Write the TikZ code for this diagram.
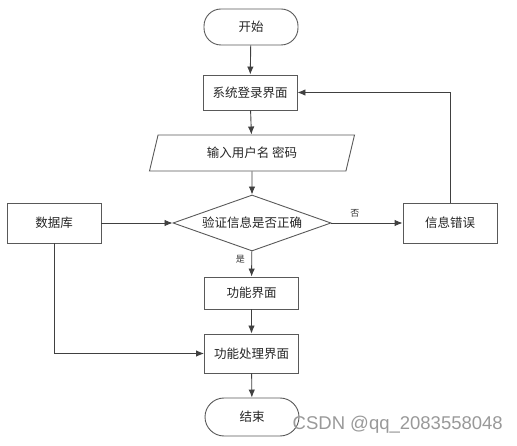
\documentclass[tikz,border=0pt]{standalone}
\usepackage{fontspec}
\newfontfamily\cjk{Noto Sans CJK SC}
\usepackage{tikz}
\usetikzlibrary{shapes.geometric}
\usetikzlibrary{arrows.meta}
\tikzset{
  flowline/.style={draw=black!75, line width=0.9pt, -{Latex[length=8pt,width=6.5pt]}},
  procbox/.style={draw=black!65, line width=0.9pt, minimum width=94pt, text=black!85, font=\cjk\fontsize{12.5}{14}\selectfont},
  termbox/.style={procbox, rounded corners=17pt, minimum height=36pt},
  iobox/.style={trapezium, trapezium left angle=65, trapezium right angle=115, trapezium stretches body,
    draw=black!65, line width=0.9pt, minimum width=205pt, minimum height=36pt, text=black!85, font=\cjk\fontsize{12.5}{14}\selectfont},
  testbox/.style={diamond, aspect=2.8, inner sep=0pt, draw=black!65, line width=0.9pt,
    minimum width=158pt, minimum height=56pt, text=black!85, font=\cjk\fontsize{12.5}{14}\selectfont},
  edgetag/.style={font=\cjk\fontsize{9}{10}\selectfont, text=black!80}
}
\begin{document}
\begin{tikzpicture}[x=1pt,y=1pt]
        \useasboundingbox (0,0) rectangle (517,-446);
        % main column
        \node[termbox] (start) at (251,-27) {开始};
        \node[procbox, minimum height=35pt] (login) at (250,-92.5) {系统登录界面};
        \node[iobox] (input) at (252,-153) {输入用户名 密码};
        \node[testbox] (check) at (252,-223) {验证信息是否正确};
        \node[procbox, minimum height=32pt] (func) at (251.5,-293) {功能界面};
        \node[procbox, minimum height=39pt] (work) at (251.5,-353.5) {功能处理界面};
        \node[termbox, minimum height=38pt, rounded corners=19pt] (stop) at (252,-417) {结束};
        % side boxes
        \node[procbox, minimum height=40pt] (db) at (54,-223) {数据库};
        \node[procbox, minimum height=40pt] (err) at (450,-223) {信息错误};
        % arrows
        \draw[flowline] (start) -- (login);
        \draw[flowline] (login) -- (input);
        \draw[flowline] (input) -- (check);
        \draw[flowline] (check) -- node[edgetag, pos=0.32, left=3pt] {是} (func);
        \draw[flowline] (func) -- (work);
        \draw[flowline] (work) -- (stop);
        \draw[flowline] (db) -- (check);
        \draw[flowline] (check) -- node[edgetag, pos=0.33, above=2pt] {否} (err);
        \draw[flowline] (err.north) |- (login.east);
        \draw[flowline] (db.south) |- (work.west);
        % watermark
        \node[font=\fontspec{Liberation Sans}\fontsize{18.5}{20}\selectfont, text=black!40, anchor=east, inner sep=0pt] (mark) at (503,-425) {CSDN @qq\_2083558048};
    \end{tikzpicture}
\end{document}
